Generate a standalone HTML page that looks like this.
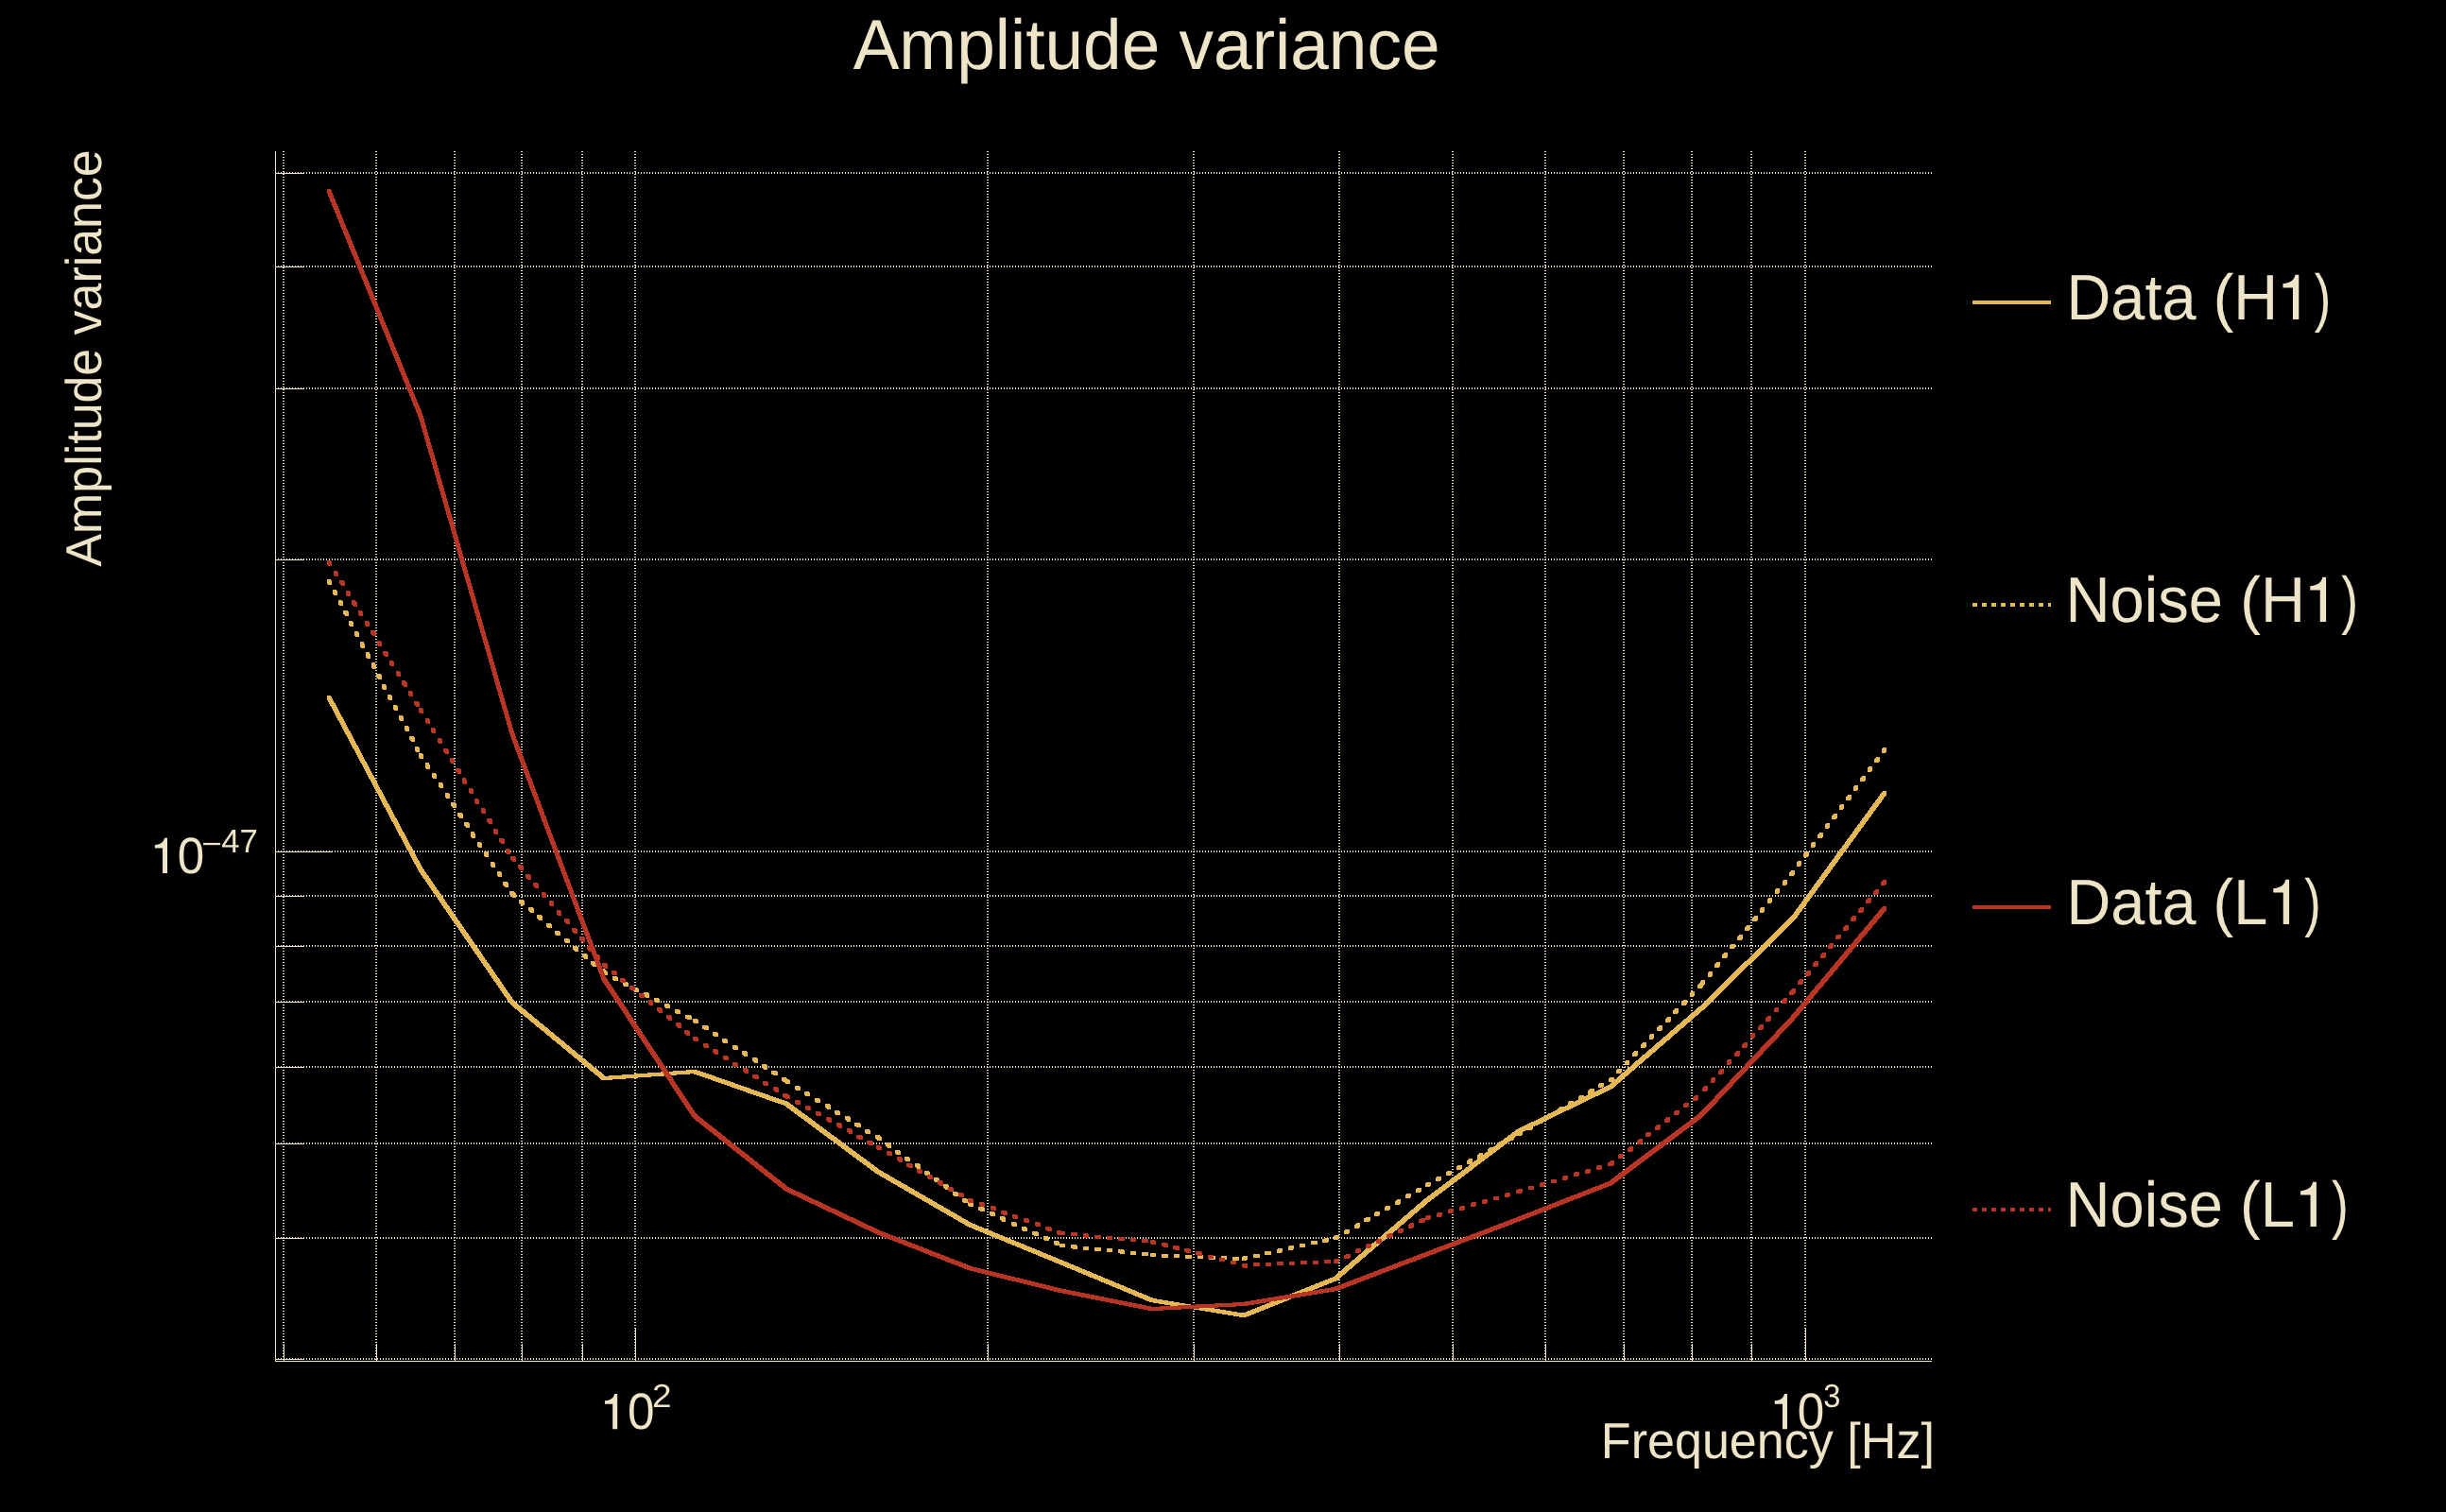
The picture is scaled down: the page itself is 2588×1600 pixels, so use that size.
<!DOCTYPE html>
<html lang="en"><head><meta charset="utf-8"><title>Amplitude variance</title>
<style>
html,body{margin:0;padding:0;background:#000;}
body{width:2588px;height:1600px;overflow:hidden;}
svg{display:block;will-change:transform;}
text{font-family:"Liberation Sans",sans-serif;fill:#EEE4C8;text-rendering:geometricPrecision;}
</style></head><body>
<svg width="2588" height="1600" viewBox="0 0 2588 1600">
<rect x="0" y="0" width="2588" height="1600" fill="#000"/>
<g shape-rendering="crispEdges" stroke="#EEE4C8" stroke-width="2" stroke-dasharray="1 2" fill="none">
<line x1="300" y1="160" x2="300" y2="1440"/>
<line x1="398" y1="160" x2="398" y2="1440"/>
<line x1="481" y1="160" x2="481" y2="1440"/>
<line x1="552" y1="160" x2="552" y2="1440"/>
<line x1="616" y1="160" x2="616" y2="1440"/>
<line x1="672" y1="160" x2="672" y2="1440"/>
<line x1="1045" y1="160" x2="1045" y2="1440"/>
<line x1="1263" y1="160" x2="1263" y2="1440"/>
<line x1="1417" y1="160" x2="1417" y2="1440"/>
<line x1="1537" y1="160" x2="1537" y2="1440"/>
<line x1="1635" y1="160" x2="1635" y2="1440"/>
<line x1="1718" y1="160" x2="1718" y2="1440"/>
<line x1="1790" y1="160" x2="1790" y2="1440"/>
<line x1="1853" y1="160" x2="1853" y2="1440"/>
<line x1="1910" y1="160" x2="1910" y2="1440"/>
<line x1="294" y1="183" x2="2044" y2="183"/>
<line x1="294" y1="282" x2="2044" y2="282"/>
<line x1="294" y1="411" x2="2044" y2="411"/>
<line x1="294" y1="592" x2="2044" y2="592"/>
<line x1="294" y1="901" x2="2044" y2="901"/>
<line x1="294" y1="948" x2="2044" y2="948"/>
<line x1="294" y1="1001" x2="2044" y2="1001"/>
<line x1="294" y1="1060" x2="2044" y2="1060"/>
<line x1="294" y1="1129" x2="2044" y2="1129"/>
<line x1="294" y1="1210" x2="2044" y2="1210"/>
<line x1="294" y1="1310" x2="2044" y2="1310"/>
<line x1="294" y1="1438" x2="2044" y2="1438"/>
</g>
<g shape-rendering="crispEdges" fill="#EEE4C8">
<rect x="291" y="160" width="1" height="1281"/>
<rect x="291" y="1440" width="1753" height="1"/>
<rect x="300" y="1422" width="1" height="18"/>
<rect x="398" y="1422" width="1" height="18"/>
<rect x="481" y="1422" width="1" height="18"/>
<rect x="552" y="1422" width="1" height="18"/>
<rect x="616" y="1422" width="1" height="18"/>
<rect x="672" y="1405" width="1" height="35"/>
<rect x="1045" y="1422" width="1" height="18"/>
<rect x="1263" y="1422" width="1" height="18"/>
<rect x="1417" y="1422" width="1" height="18"/>
<rect x="1537" y="1422" width="1" height="18"/>
<rect x="1635" y="1422" width="1" height="18"/>
<rect x="1718" y="1422" width="1" height="18"/>
<rect x="1790" y="1422" width="1" height="18"/>
<rect x="1853" y="1422" width="1" height="18"/>
<rect x="1910" y="1405" width="1" height="35"/>
<rect x="292" y="183" width="30" height="1"/>
<rect x="292" y="282" width="30" height="1"/>
<rect x="292" y="411" width="30" height="1"/>
<rect x="292" y="592" width="30" height="1"/>
<rect x="292" y="901" width="60" height="1"/>
<rect x="292" y="948" width="30" height="1"/>
<rect x="292" y="1001" width="30" height="1"/>
<rect x="292" y="1060" width="30" height="1"/>
<rect x="292" y="1129" width="30" height="1"/>
<rect x="292" y="1210" width="30" height="1"/>
<rect x="292" y="1310" width="30" height="1"/>
<rect x="292" y="1438" width="30" height="1"/>
</g>
<path d="M346 736L350 736L447 918L447 922L443 922L346 740ZM443 918L447 918L544 1059L544 1063L540 1063L443 922ZM540 1059L544 1059L641 1139L641 1143L637 1143L540 1063ZM637 1139L733 1132L737 1132L737 1136L641 1143L637 1143ZM733 1132L737 1132L834 1166L834 1170L830 1170L733 1136ZM830 1166L834 1166L931 1238L931 1242L927 1242L830 1170ZM927 1238L931 1238L1028 1294L1028 1298L1024 1298L927 1242ZM1024 1294L1028 1294L1125 1334L1125 1338L1121 1338L1024 1298ZM1121 1334L1125 1334L1221 1374L1221 1378L1217 1378L1121 1338ZM1217 1374L1221 1374L1318 1390L1318 1394L1314 1394L1217 1378ZM1314 1390L1411 1351L1415 1351L1415 1355L1318 1394L1314 1394ZM1411 1351L1508 1268L1512 1268L1512 1272L1415 1355L1411 1355ZM1508 1268L1605 1195L1609 1195L1609 1199L1512 1272L1508 1272ZM1605 1195L1702 1148L1706 1148L1706 1152L1609 1199L1605 1199ZM1702 1148L1798 1065L1802 1065L1802 1069L1706 1152L1702 1152ZM1798 1065L1895 970L1899 970L1899 974L1802 1069L1798 1069ZM1895 970L1992 837L1996 837L1996 841L1899 974L1895 974Z" fill="#E6B755" shape-rendering="crispEdges"/>
<path d="M346 613L350 613L351 615L351 619L347 619L346 617ZM352 624L356 624L357 626L357 630L353 630L352 628ZM358 635L362 635L363 637L363 641L359 641L358 639ZM363 646L367 646L369 648L369 652L365 652L363 650ZM369 657L373 657L374 659L374 663L370 663L369 661ZM375 668L379 668L380 670L380 674L376 674L375 672ZM381 679L385 679L386 682L386 686L382 686L381 683ZM387 690L391 690L392 693L392 697L388 697L387 694ZM393 701L397 701L398 704L398 708L394 708L393 705ZM398 713L402 713L404 715L404 719L400 719L398 717ZM404 724L408 724L409 726L409 730L405 730L404 728ZM410 735L414 735L415 737L415 741L411 741L410 739ZM416 746L420 746L421 748L421 752L417 752L416 750ZM422 757L426 757L427 759L427 763L423 763L422 761ZM428 768L432 768L433 770L433 774L429 774L428 772ZM433 779L437 779L439 781L439 785L435 785L433 783ZM439 790L443 790L444 792L444 796L440 796L439 794ZM443 797L447 797L448 799L448 803L444 803L443 801ZM450 807L454 807L455 810L455 814L451 814L450 811ZM457 818L461 818L462 820L462 824L458 824L457 822ZM464 828L468 828L469 830L469 834L465 834L464 832ZM471 839L475 839L476 841L476 845L472 845L471 843ZM477 849L481 849L483 851L483 855L479 855L477 853ZM484 860L488 860L490 862L490 866L486 866L484 864ZM491 870L495 870L497 872L497 876L493 876L491 874ZM498 880L502 880L503 883L503 887L499 887L498 884ZM505 891L509 891L510 893L510 897L506 897L505 895ZM512 901L516 901L517 903L517 907L513 907L512 905ZM519 912L523 912L524 914L524 918L520 918L519 916ZM526 922L530 922L531 924L531 928L527 928L526 926ZM532 933L536 933L538 935L538 939L534 939L532 937ZM539 943L543 943L545 945L545 949L541 949L539 947ZM540 944L544 944L546 946L546 950L542 950L540 948ZM549 952L553 952L555 954L555 958L551 958L549 956ZM559 960L563 960L565 962L565 966L561 966L559 964ZM568 968L572 968L574 970L574 974L570 974L568 972ZM578 977L582 977L584 978L584 982L580 982L578 981ZM587 985L591 985L593 986L593 990L589 990L587 989ZM597 993L601 993L603 994L603 998L599 998L597 997ZM606 1001L610 1001L612 1003L612 1007L608 1007L606 1005ZM616 1009L620 1009L622 1011L622 1015L618 1015L616 1013ZM625 1017L629 1017L631 1019L631 1023L627 1023L625 1021ZM635 1025L639 1025L641 1027L641 1031L637 1031L635 1029ZM637 1027L641 1027L643 1028L643 1032L639 1032L637 1031ZM648 1033L652 1033L654 1034L654 1038L650 1038L648 1037ZM659 1039L663 1039L665 1040L665 1044L661 1044L659 1043ZM670 1045L674 1045L676 1046L676 1050L672 1050L670 1049ZM681 1050L685 1050L687 1052L687 1056L683 1056L681 1054ZM692 1056L696 1056L698 1057L698 1061L694 1061L692 1060ZM703 1062L707 1062L709 1063L709 1067L705 1067L703 1066ZM714 1068L718 1068L720 1069L720 1073L716 1073L714 1072ZM725 1074L729 1074L732 1075L732 1079L728 1079L725 1078ZM733 1078L737 1078L739 1079L739 1083L735 1083L733 1082ZM743 1085L747 1085L750 1086L750 1090L746 1090L743 1089ZM754 1092L758 1092L760 1093L760 1097L756 1097L754 1096ZM764 1099L768 1099L770 1100L770 1104L766 1104L764 1103ZM775 1106L779 1106L781 1107L781 1111L777 1111L775 1110ZM785 1112L789 1112L791 1114L791 1118L787 1118L785 1116ZM796 1119L800 1119L802 1121L802 1125L798 1125L796 1123ZM806 1126L810 1126L812 1128L812 1132L808 1132L806 1130ZM816 1133L820 1133L823 1134L823 1138L819 1138L816 1137ZM827 1140L831 1140L833 1141L833 1145L829 1145L827 1144ZM830 1142L834 1142L836 1143L836 1147L832 1147L830 1146ZM841 1149L845 1149L847 1150L847 1154L843 1154L841 1153ZM851 1155L855 1155L857 1156L857 1160L853 1160L851 1159ZM862 1162L866 1162L868 1163L868 1167L864 1167L862 1166ZM873 1168L877 1168L879 1170L879 1174L875 1174L873 1172ZM883 1175L887 1175L889 1176L889 1180L885 1180L883 1179ZM894 1181L898 1181L900 1183L900 1187L896 1187L894 1185ZM904 1188L908 1188L911 1189L911 1193L907 1193L904 1192ZM915 1195L919 1195L921 1196L921 1200L917 1200L915 1199ZM926 1201L930 1201L932 1202L932 1206L928 1206L926 1205ZM927 1202L931 1202L933 1203L933 1207L929 1207L927 1206ZM937 1209L941 1209L943 1211L943 1215L939 1215L937 1213ZM947 1217L951 1217L953 1218L953 1222L949 1222L947 1221ZM957 1224L961 1224L963 1225L963 1229L959 1229L957 1228ZM968 1231L972 1231L974 1233L974 1237L970 1237L968 1235ZM978 1239L982 1239L984 1240L984 1244L980 1244L978 1243ZM988 1246L992 1246L994 1247L994 1251L990 1251L988 1250ZM998 1253L1002 1253L1004 1255L1004 1259L1000 1259L998 1257ZM1008 1261L1012 1261L1014 1262L1014 1266L1010 1266L1008 1265ZM1018 1268L1022 1268L1024 1269L1024 1273L1020 1273L1018 1272ZM1024 1272L1028 1272L1030 1273L1030 1277L1026 1277L1024 1276ZM1035 1277L1039 1277L1042 1278L1042 1282L1038 1282L1035 1281ZM1047 1282L1051 1282L1053 1283L1053 1287L1049 1287L1047 1286ZM1058 1287L1062 1287L1064 1289L1064 1293L1060 1293L1058 1291ZM1070 1293L1074 1293L1076 1294L1076 1298L1072 1298L1070 1297ZM1081 1298L1085 1298L1087 1299L1087 1303L1083 1303L1081 1302ZM1092 1303L1096 1303L1099 1304L1099 1308L1095 1308L1092 1307ZM1104 1308L1108 1308L1110 1309L1110 1313L1106 1313L1104 1312ZM1115 1313L1119 1313L1121 1314L1121 1318L1117 1318L1115 1317ZM1121 1316L1127 1316L1127 1320L1121 1320ZM1133 1317L1137 1317L1140 1318L1140 1322L1136 1322L1133 1321ZM1146 1319L1152 1319L1152 1323L1146 1323ZM1158 1320L1165 1320L1165 1324L1158 1324ZM1171 1321L1177 1321L1177 1325L1171 1325ZM1183 1322L1187 1322L1190 1323L1190 1327L1186 1327L1183 1326ZM1196 1324L1202 1324L1202 1328L1196 1328ZM1208 1325L1215 1325L1215 1329L1208 1329ZM1217 1326L1223 1326L1223 1330L1217 1330ZM1229 1327L1236 1327L1236 1331L1229 1331ZM1242 1327L1248 1327L1248 1331L1242 1331ZM1254 1328L1261 1328L1261 1332L1254 1332ZM1267 1328L1273 1328L1273 1332L1267 1332ZM1279 1329L1286 1329L1286 1333L1279 1333ZM1292 1329L1298 1329L1298 1333L1292 1333ZM1304 1330L1311 1330L1311 1334L1304 1334ZM1314 1330L1316 1329L1320 1329L1320 1333L1318 1334L1314 1334ZM1326 1327L1333 1327L1333 1331L1326 1331ZM1338 1324L1345 1324L1345 1328L1338 1328ZM1351 1322L1353 1321L1357 1321L1357 1325L1355 1326L1351 1326ZM1363 1319L1365 1318L1369 1318L1369 1322L1367 1323L1363 1323ZM1375 1316L1381 1316L1381 1320L1375 1320ZM1387 1313L1394 1313L1394 1317L1387 1317ZM1399 1311L1402 1310L1406 1310L1406 1314L1403 1315L1399 1315ZM1411 1308L1413 1307L1417 1307L1417 1311L1415 1312L1411 1312ZM1422 1302L1424 1301L1428 1301L1428 1305L1426 1306L1422 1306ZM1433 1296L1435 1294L1439 1294L1439 1298L1437 1300L1433 1300ZM1443 1289L1446 1288L1450 1288L1450 1292L1447 1293L1443 1293ZM1454 1283L1456 1282L1460 1282L1460 1286L1458 1287L1454 1287ZM1465 1277L1467 1276L1471 1276L1471 1280L1469 1281L1465 1281ZM1476 1271L1478 1269L1482 1269L1482 1273L1480 1275L1476 1275ZM1487 1264L1489 1263L1493 1263L1493 1267L1491 1268L1487 1268ZM1498 1258L1500 1257L1504 1257L1504 1261L1502 1262L1498 1262ZM1508 1252L1510 1251L1514 1251L1514 1255L1512 1256L1508 1256ZM1519 1246L1521 1245L1525 1245L1525 1249L1523 1250L1519 1250ZM1530 1240L1532 1239L1536 1239L1536 1243L1534 1244L1530 1244ZM1541 1234L1543 1233L1547 1233L1547 1237L1545 1238L1541 1238ZM1552 1228L1554 1226L1558 1226L1558 1230L1556 1232L1552 1232ZM1563 1222L1565 1220L1569 1220L1569 1224L1567 1226L1563 1226ZM1574 1216L1576 1214L1580 1214L1580 1218L1578 1220L1574 1220ZM1584 1209L1587 1208L1591 1208L1591 1212L1588 1213L1584 1213ZM1595 1203L1598 1202L1602 1202L1602 1206L1599 1207L1595 1207ZM1605 1198L1607 1197L1611 1197L1611 1201L1609 1202L1605 1202ZM1616 1192L1618 1190L1622 1190L1622 1194L1620 1196L1616 1196ZM1627 1185L1629 1184L1633 1184L1633 1188L1631 1189L1627 1189ZM1637 1179L1639 1178L1643 1178L1643 1182L1641 1183L1637 1183ZM1648 1173L1650 1171L1654 1171L1654 1175L1652 1177L1648 1177ZM1659 1166L1661 1165L1665 1165L1665 1169L1663 1170L1659 1170ZM1670 1160L1672 1159L1676 1159L1676 1163L1674 1164L1670 1164ZM1680 1154L1683 1152L1687 1152L1687 1156L1684 1158L1680 1158ZM1691 1147L1693 1146L1697 1146L1697 1150L1695 1151L1691 1151ZM1702 1141L1704 1140L1708 1140L1708 1144L1706 1145L1702 1145ZM1796 1042L1798 1040L1802 1040L1802 1044L1800 1046L1796 1046ZM1788 1051L1789 1049L1793 1049L1793 1053L1792 1055L1788 1055ZM1779 1060L1781 1058L1785 1058L1785 1062L1783 1064L1779 1064ZM1770 1069L1772 1067L1776 1067L1776 1071L1774 1073L1770 1073ZM1762 1078L1764 1076L1768 1076L1768 1080L1766 1082L1762 1082ZM1753 1087L1755 1085L1759 1085L1759 1089L1757 1091L1753 1091ZM1745 1096L1746 1094L1750 1094L1750 1098L1749 1100L1745 1100ZM1736 1105L1738 1103L1742 1103L1742 1107L1740 1109L1736 1109ZM1727 1114L1729 1112L1733 1112L1733 1116L1731 1118L1727 1118ZM1719 1123L1720 1122L1724 1122L1724 1126L1723 1127L1719 1127ZM1710 1132L1712 1131L1716 1131L1716 1135L1714 1136L1710 1136ZM1702 1141L1703 1140L1707 1140L1707 1144L1706 1145L1702 1145ZM1893 923L1895 921L1899 921L1899 925L1897 927L1893 927ZM1886 933L1887 931L1891 931L1891 935L1890 937L1886 937ZM1878 942L1879 940L1883 940L1883 944L1882 946L1878 946ZM1870 952L1871 950L1875 950L1875 954L1874 956L1870 956ZM1862 962L1863 960L1867 960L1867 964L1866 966L1862 966ZM1854 971L1856 969L1860 969L1860 973L1858 975L1854 975ZM1846 981L1848 979L1852 979L1852 983L1850 985L1846 985ZM1838 991L1840 989L1844 989L1844 993L1842 995L1838 995ZM1830 1000L1832 999L1836 999L1836 1003L1834 1004L1830 1004ZM1822 1010L1824 1008L1828 1008L1828 1012L1826 1014L1822 1014ZM1814 1020L1816 1018L1820 1018L1820 1022L1818 1024L1814 1024ZM1807 1030L1808 1028L1812 1028L1812 1032L1811 1034L1807 1034ZM1799 1039L1800 1037L1804 1037L1804 1041L1803 1043L1799 1043ZM1991 793L1992 791L1996 791L1996 795L1995 797L1991 797ZM1983 803L1985 801L1989 801L1989 805L1987 807L1983 807ZM1976 813L1977 811L1981 811L1981 815L1980 817L1976 817ZM1968 823L1970 821L1974 821L1974 825L1972 827L1968 827ZM1961 833L1962 831L1966 831L1966 835L1965 837L1961 837ZM1953 843L1955 841L1959 841L1959 845L1957 847L1953 847ZM1946 853L1947 851L1951 851L1951 855L1950 857L1946 857ZM1938 863L1940 861L1944 861L1944 865L1942 867L1938 867ZM1931 873L1932 871L1936 871L1936 875L1935 877L1931 877ZM1923 883L1925 881L1929 881L1929 885L1927 887L1923 887ZM1916 893L1917 891L1921 891L1921 895L1920 897L1916 897ZM1908 903L1910 901L1914 901L1914 905L1912 907L1908 907ZM1901 913L1902 911L1906 911L1906 915L1905 917L1901 917Z" fill="#E6B755" shape-rendering="crispEdges"/>
<path d="M346 200L350 200L447 438L447 442L443 442L346 204ZM443 438L447 438L544 775L544 779L540 779L443 442ZM540 775L544 775L641 1034L641 1038L637 1038L540 779ZM637 1034L641 1034L737 1179L737 1183L733 1183L637 1038ZM733 1179L737 1179L834 1256L834 1260L830 1260L733 1183ZM830 1256L834 1256L931 1302L931 1306L927 1306L830 1260ZM927 1302L931 1302L1028 1340L1028 1344L1024 1344L927 1306ZM1024 1340L1028 1340L1125 1364L1125 1368L1121 1368L1024 1344ZM1121 1364L1125 1364L1221 1383L1221 1387L1217 1387L1121 1368ZM1217 1383L1314 1378L1318 1378L1318 1382L1221 1387L1217 1387ZM1314 1378L1411 1362L1415 1362L1415 1366L1318 1382L1314 1382ZM1411 1362L1508 1325L1512 1325L1512 1329L1415 1366L1411 1366ZM1508 1325L1605 1288L1609 1288L1609 1292L1512 1329L1508 1329ZM1605 1288L1702 1250L1706 1250L1706 1254L1609 1292L1605 1292ZM1702 1250L1798 1178L1802 1178L1802 1182L1706 1254L1702 1254ZM1798 1178L1895 1075L1899 1075L1899 1079L1802 1182L1798 1182ZM1895 1075L1992 959L1996 959L1996 963L1899 1079L1895 1079Z" fill="#B83526" shape-rendering="crispEdges"/>
<path d="M346 593L350 593L351 595L351 599L347 599L346 597ZM353 604L357 604L358 606L358 610L354 610L353 608ZM359 614L363 614L365 616L365 620L361 620L359 618ZM366 625L370 625L371 627L371 631L367 631L366 629ZM372 635L376 635L378 638L378 642L374 642L372 639ZM379 646L383 646L384 648L384 652L380 652L379 650ZM386 657L390 657L391 659L391 663L387 663L386 661ZM392 667L396 667L398 669L398 673L394 673L392 671ZM399 678L403 678L404 680L404 684L400 684L399 682ZM405 689L409 689L411 691L411 695L407 695L405 693ZM412 699L416 699L417 701L417 705L413 705L412 703ZM419 710L423 710L424 712L424 716L420 716L419 714ZM425 720L429 720L431 723L431 727L427 727L425 724ZM432 731L436 731L437 733L437 737L433 737L432 735ZM438 742L442 742L444 744L444 748L440 748L438 746ZM443 749L447 749L448 751L448 755L444 755L443 753ZM450 760L454 760L455 762L455 766L451 766L450 764ZM456 770L460 770L461 772L461 776L457 776L456 774ZM463 781L467 781L468 783L468 787L464 787L463 785ZM469 792L473 792L475 794L475 798L471 798L469 796ZM476 802L480 802L481 804L481 808L477 808L476 806ZM482 813L486 813L488 815L488 819L484 819L482 817ZM489 823L493 823L494 826L494 830L490 830L489 827ZM496 834L500 834L501 836L501 840L497 840L496 838ZM502 845L506 845L507 847L507 851L503 851L502 849ZM509 855L513 855L514 857L514 861L510 861L509 859ZM515 866L519 866L521 868L521 872L517 872L515 870ZM522 877L526 877L527 879L527 883L523 883L522 881ZM528 887L532 887L534 889L534 893L530 893L528 891ZM535 898L539 898L540 900L540 904L536 904L535 902ZM540 906L544 906L546 908L546 912L542 912L540 910ZM548 915L552 915L554 917L554 921L550 921L548 919ZM556 925L560 925L562 927L562 931L558 931L556 929ZM564 934L568 934L570 936L570 940L566 940L564 938ZM573 944L577 944L578 946L578 950L574 950L573 948ZM581 953L585 953L586 955L586 959L582 959L581 957ZM589 963L593 963L594 965L594 969L590 969L589 967ZM597 972L601 972L603 974L603 978L599 978L597 976ZM605 982L609 982L611 984L611 988L607 988L605 986ZM613 991L617 991L619 993L619 997L615 997L613 995ZM621 1001L625 1001L627 1003L627 1007L623 1007L621 1005ZM630 1010L634 1010L635 1012L635 1016L631 1016L630 1014ZM637 1019L641 1019L643 1021L643 1025L639 1025L637 1023ZM647 1027L651 1027L653 1028L653 1032L649 1032L647 1031ZM656 1035L660 1035L662 1036L662 1040L658 1040L656 1039ZM666 1043L670 1043L672 1044L672 1048L668 1048L666 1047ZM676 1051L680 1051L682 1052L682 1056L678 1056L676 1055ZM686 1058L690 1058L691 1060L691 1064L687 1064L686 1062ZM695 1066L699 1066L701 1068L701 1072L697 1072L695 1070ZM705 1074L709 1074L711 1076L711 1080L707 1080L705 1078ZM715 1082L719 1082L721 1084L721 1088L717 1088L715 1086ZM724 1090L728 1090L730 1092L730 1096L726 1096L724 1094ZM733 1097L737 1097L739 1098L739 1102L735 1102L733 1101ZM744 1104L748 1104L750 1105L750 1109L746 1109L744 1108ZM754 1110L758 1110L760 1112L760 1116L756 1116L754 1114ZM765 1117L769 1117L771 1118L771 1122L767 1122L765 1121ZM775 1124L779 1124L781 1125L781 1129L777 1129L775 1128ZM786 1130L790 1130L792 1132L792 1136L788 1136L786 1134ZM796 1137L800 1137L803 1138L803 1142L799 1142L796 1141ZM807 1144L811 1144L813 1145L813 1149L809 1149L807 1148ZM818 1150L822 1150L824 1152L824 1156L820 1156L818 1154ZM828 1157L832 1157L834 1158L834 1162L830 1162L828 1161ZM830 1158L834 1158L836 1159L836 1163L832 1163L830 1162ZM841 1164L845 1164L847 1165L847 1169L843 1169L841 1168ZM852 1170L856 1170L858 1171L858 1175L854 1175L852 1174ZM863 1176L867 1176L869 1177L869 1181L865 1181L863 1180ZM874 1182L878 1182L880 1184L880 1188L876 1188L874 1186ZM885 1188L889 1188L891 1190L891 1194L887 1194L885 1192ZM896 1194L900 1194L902 1196L902 1200L898 1200L896 1198ZM906 1201L910 1201L913 1202L913 1206L909 1206L906 1205ZM917 1207L921 1207L924 1208L924 1212L920 1212L917 1211ZM927 1212L931 1212L933 1213L933 1217L929 1217L927 1216ZM938 1218L942 1218L944 1219L944 1223L940 1223L938 1222ZM949 1224L953 1224L955 1226L955 1230L951 1230L949 1228ZM959 1231L963 1231L966 1232L966 1236L962 1236L959 1235ZM970 1237L974 1237L976 1238L976 1242L972 1242L970 1241ZM981 1243L985 1243L987 1244L987 1248L983 1248L981 1247ZM992 1249L996 1249L998 1251L998 1255L994 1255L992 1253ZM1003 1256L1007 1256L1009 1257L1009 1261L1005 1261L1003 1260ZM1014 1262L1018 1262L1020 1263L1020 1267L1016 1267L1014 1266ZM1024 1268L1028 1268L1030 1269L1030 1273L1026 1273L1024 1272ZM1036 1272L1040 1272L1042 1273L1042 1277L1038 1277L1036 1276ZM1048 1276L1052 1276L1054 1277L1054 1281L1050 1281L1048 1280ZM1059 1281L1063 1281L1066 1282L1066 1286L1062 1286L1059 1285ZM1071 1285L1075 1285L1077 1286L1077 1290L1073 1290L1071 1289ZM1083 1289L1087 1289L1089 1290L1089 1294L1085 1294L1083 1293ZM1095 1293L1099 1293L1101 1294L1101 1298L1097 1298L1095 1297ZM1106 1298L1110 1298L1113 1299L1113 1303L1109 1303L1106 1302ZM1118 1302L1122 1302L1124 1303L1124 1307L1120 1307L1118 1306ZM1121 1303L1127 1303L1127 1307L1121 1307ZM1133 1304L1140 1304L1140 1308L1133 1308ZM1146 1305L1150 1305L1152 1306L1152 1310L1148 1310L1146 1309ZM1158 1307L1165 1307L1165 1311L1158 1311ZM1171 1308L1177 1308L1177 1312L1171 1312ZM1183 1309L1190 1309L1190 1313L1183 1313ZM1196 1310L1202 1310L1202 1314L1196 1314ZM1208 1311L1215 1311L1215 1315L1208 1315ZM1217 1312L1221 1312L1223 1313L1223 1317L1219 1317L1217 1316ZM1229 1315L1233 1315L1236 1316L1236 1320L1232 1320L1229 1319ZM1241 1318L1245 1318L1248 1319L1248 1323L1244 1323L1241 1322ZM1253 1321L1257 1321L1260 1322L1260 1326L1256 1326L1253 1325ZM1265 1324L1269 1324L1272 1325L1272 1329L1268 1329L1265 1328ZM1278 1328L1284 1328L1284 1332L1278 1332ZM1290 1331L1296 1331L1296 1335L1290 1335ZM1302 1334L1308 1334L1308 1338L1302 1338ZM1314 1337L1318 1337L1320 1338L1320 1342L1316 1342L1314 1341ZM1314 1337L1320 1337L1320 1341L1314 1341ZM1326 1336L1333 1336L1333 1340L1326 1340ZM1339 1336L1345 1336L1345 1340L1339 1340ZM1351 1335L1358 1335L1358 1339L1351 1339ZM1364 1335L1370 1335L1370 1339L1364 1339ZM1376 1334L1383 1334L1383 1338L1376 1338ZM1389 1334L1395 1334L1395 1338L1389 1338ZM1401 1333L1408 1333L1408 1337L1401 1337ZM1411 1333L1413 1332L1417 1332L1417 1336L1415 1337L1411 1337ZM1422 1328L1425 1327L1429 1327L1429 1331L1426 1332L1422 1332ZM1434 1322L1436 1321L1440 1321L1440 1325L1438 1326L1434 1326ZM1445 1317L1447 1316L1451 1316L1451 1320L1449 1321L1445 1321ZM1456 1312L1458 1311L1462 1311L1462 1315L1460 1316L1456 1316ZM1467 1306L1470 1305L1474 1305L1474 1309L1471 1310L1467 1310ZM1479 1301L1481 1300L1485 1300L1485 1304L1483 1305L1479 1305ZM1490 1296L1492 1294L1496 1294L1496 1298L1494 1300L1490 1300ZM1501 1290L1504 1289L1508 1289L1508 1293L1505 1294L1501 1294ZM1508 1287L1510 1286L1514 1286L1514 1290L1512 1291L1508 1291ZM1520 1284L1522 1283L1526 1283L1526 1287L1524 1288L1520 1288ZM1532 1280L1534 1279L1538 1279L1538 1283L1536 1284L1532 1284ZM1544 1277L1546 1276L1550 1276L1550 1280L1548 1281L1544 1281ZM1556 1273L1558 1272L1562 1272L1562 1276L1560 1277L1556 1277ZM1568 1270L1570 1269L1574 1269L1574 1273L1572 1274L1568 1274ZM1580 1266L1586 1266L1586 1270L1580 1270ZM1592 1263L1594 1262L1598 1262L1598 1266L1596 1267L1592 1267ZM1604 1259L1610 1259L1610 1263L1604 1263ZM1605 1259L1607 1258L1611 1258L1611 1262L1609 1263L1605 1263ZM1617 1255L1623 1255L1623 1259L1617 1259ZM1629 1252L1631 1251L1635 1251L1635 1255L1633 1256L1629 1256ZM1641 1248L1647 1248L1647 1252L1641 1252ZM1653 1245L1655 1244L1659 1244L1659 1248L1657 1249L1653 1249ZM1665 1241L1667 1240L1671 1240L1671 1244L1669 1245L1665 1245ZM1677 1238L1679 1237L1683 1237L1683 1241L1681 1242L1677 1242ZM1689 1234L1691 1233L1695 1233L1695 1237L1693 1238L1689 1238ZM1701 1230L1707 1230L1707 1234L1701 1234ZM1702 1230L1704 1228L1708 1228L1708 1232L1706 1234L1702 1234ZM1712 1222L1714 1221L1718 1221L1718 1225L1716 1226L1712 1226ZM1722 1215L1724 1213L1728 1213L1728 1217L1726 1219L1722 1219ZM1732 1207L1734 1205L1738 1205L1738 1209L1736 1211L1732 1211ZM1741 1199L1743 1198L1747 1198L1747 1202L1745 1203L1741 1203ZM1751 1192L1753 1190L1757 1190L1757 1194L1755 1196L1751 1196ZM1761 1184L1763 1182L1767 1182L1767 1186L1765 1188L1761 1188ZM1771 1176L1773 1175L1777 1175L1777 1179L1775 1180L1771 1180ZM1781 1168L1783 1167L1787 1167L1787 1171L1785 1172L1781 1172ZM1791 1161L1793 1159L1797 1159L1797 1163L1795 1165L1791 1165ZM1893 1049L1895 1047L1899 1047L1899 1051L1897 1053L1893 1053ZM1885 1058L1887 1056L1891 1056L1891 1060L1889 1062L1885 1062ZM1877 1067L1878 1066L1882 1066L1882 1070L1881 1071L1877 1071ZM1868 1077L1870 1075L1874 1075L1874 1079L1872 1081L1868 1081ZM1860 1086L1862 1084L1866 1084L1866 1088L1864 1090L1860 1090ZM1852 1095L1853 1093L1857 1093L1857 1097L1856 1099L1852 1099ZM1843 1105L1845 1103L1849 1103L1849 1107L1847 1109L1843 1109ZM1835 1114L1837 1112L1841 1112L1841 1116L1839 1118L1835 1118ZM1827 1123L1828 1121L1832 1121L1832 1125L1831 1127L1827 1127ZM1818 1133L1820 1131L1824 1131L1824 1135L1822 1137L1818 1137ZM1810 1142L1811 1140L1815 1140L1815 1144L1814 1146L1810 1146ZM1801 1151L1803 1149L1807 1149L1807 1153L1805 1155L1801 1155ZM1990 933L1992 931L1996 931L1996 935L1994 937L1990 937ZM1982 943L1984 941L1988 941L1988 945L1986 947L1982 947ZM1974 952L1976 950L1980 950L1980 954L1978 956L1974 956ZM1966 962L1968 960L1972 960L1972 964L1970 966L1966 966ZM1958 971L1960 969L1964 969L1964 973L1962 975L1958 975ZM1950 981L1952 979L1956 979L1956 983L1954 985L1950 985ZM1942 990L1944 989L1948 989L1948 993L1946 994L1942 994ZM1934 1000L1936 998L1940 998L1940 1002L1938 1004L1934 1004ZM1926 1010L1928 1008L1932 1008L1932 1012L1930 1014L1926 1014ZM1918 1019L1920 1017L1924 1017L1924 1021L1922 1023L1918 1023ZM1910 1029L1912 1027L1916 1027L1916 1031L1914 1033L1910 1033ZM1902 1038L1904 1036L1908 1036L1908 1040L1906 1042L1902 1042ZM1894 1048L1896 1046L1900 1046L1900 1050L1898 1052L1894 1052Z" fill="#B83526" shape-rendering="crispEdges"/>
<line x1="2087" y1="320" x2="2170" y2="320" stroke="#E6B755" stroke-width="4" shape-rendering="crispEdges"/>
<text transform="translate(2186.47 338.10) scale(0.9549 1)" font-size="68.00">Data (H</text>
<path d="M2432.30 338.10L2432.30 290.81L2428.43 290.81C2427.76 295.41 2424.43 299.55 2415.49 300.21L2415.49 304.42L2425.96 304.42L2425.96 338.10Z" fill="#EEE4C8"/>
<text transform="translate(2448.69 338.10) scale(0.7710 1)" font-size="68.00">)</text>
<line x1="2087" y1="640" x2="2170" y2="640" stroke="#E6B755" stroke-width="4" shape-rendering="crispEdges" stroke-dasharray="5 5"/>
<text transform="translate(2185.45 658.10) scale(0.9587 1)" font-size="68.00">Noise (H</text>
<path d="M2461.10 658.10L2461.10 610.81L2457.23 610.81C2456.56 615.41 2453.23 619.55 2444.29 620.21L2444.29 624.42L2454.76 624.42L2454.76 658.10Z" fill="#EEE4C8"/>
<text transform="translate(2477.19 658.10) scale(0.7876 1)" font-size="68.00">)</text>
<line x1="2087" y1="960" x2="2170" y2="960" stroke="#B83526" stroke-width="4" shape-rendering="crispEdges"/>
<text transform="translate(2186.48 978.10) scale(0.9542 1)" font-size="68.00">Data (L</text>
<path d="M2422.10 978.10L2422.10 930.81L2418.23 930.81C2417.56 935.41 2414.23 939.55 2405.29 940.21L2405.29 944.42L2415.76 944.42L2415.76 978.10Z" fill="#EEE4C8"/>
<text transform="translate(2438.19 978.10) scale(0.7710 1)" font-size="68.00">)</text>
<line x1="2087" y1="1280" x2="2170" y2="1280" stroke="#B83526" stroke-width="4" shape-rendering="crispEdges" stroke-dasharray="5 5"/>
<text transform="translate(2185.46 1298.10) scale(0.9577 1)" font-size="68.00">Noise (L</text>
<path d="M2450.90 1298.10L2450.90 1250.81L2447.03 1250.81C2446.36 1255.41 2443.03 1259.55 2434.09 1260.21L2434.09 1264.42L2444.56 1264.42L2444.56 1298.10Z" fill="#EEE4C8"/>
<text transform="translate(2466.99 1298.10) scale(0.7876 1)" font-size="68.00">)</text>
<text transform="translate(902.66 73.4) scale(0.9734 1)" font-size="75">Amplitude variance</text>
<text transform="translate(107.3 599.50) rotate(-90) scale(0.9734 1)" font-size="53.3">Amplitude variance</text>
<text transform="translate(1693.83 1542.80) scale(0.9770 1)" font-size="53.30">Frequency [Hz]</text>
<path d="M653.20 1512.20L653.20 1474.91L650.15 1474.91C649.62 1478.54 646.99 1481.80 639.94 1482.32L639.94 1485.64L648.20 1485.64L648.20 1512.20Z" fill="#EEE4C8"/>
<text transform="translate(663.90 1512.20) scale(0.9491 1)" font-size="54.00">0</text>
<text transform="translate(690.05 1489.00) scale(1.0597 1)" font-size="34.80">2</text>
<path d="M1891.00 1512.20L1891.00 1474.91L1887.95 1474.91C1887.42 1478.54 1884.79 1481.80 1877.74 1482.32L1877.74 1485.64L1886.00 1485.64L1886.00 1512.20Z" fill="#EEE4C8"/>
<text transform="translate(1901.70 1512.20) scale(0.9491 1)" font-size="54.00">0</text>
<text transform="translate(1929.15 1488.60) scale(0.9394 1)" font-size="34.80">3</text>
<path d="M177.06 924.10L177.06 886.81L174.01 886.81C173.48 890.44 170.85 893.70 163.80 894.22L163.80 897.54L172.06 897.54L172.06 924.10Z" fill="#EEE4C8"/>
<text transform="translate(187.80 924.10) scale(0.9476 1)" font-size="54.00">0</text>
<rect x="215.1" y="891.9" width="18" height="2.3" fill="#EEE4C8"/>
<text transform="translate(234.20 902.00) scale(0.9984 1)" font-size="34.80">47</text>
</svg>
</body></html>
